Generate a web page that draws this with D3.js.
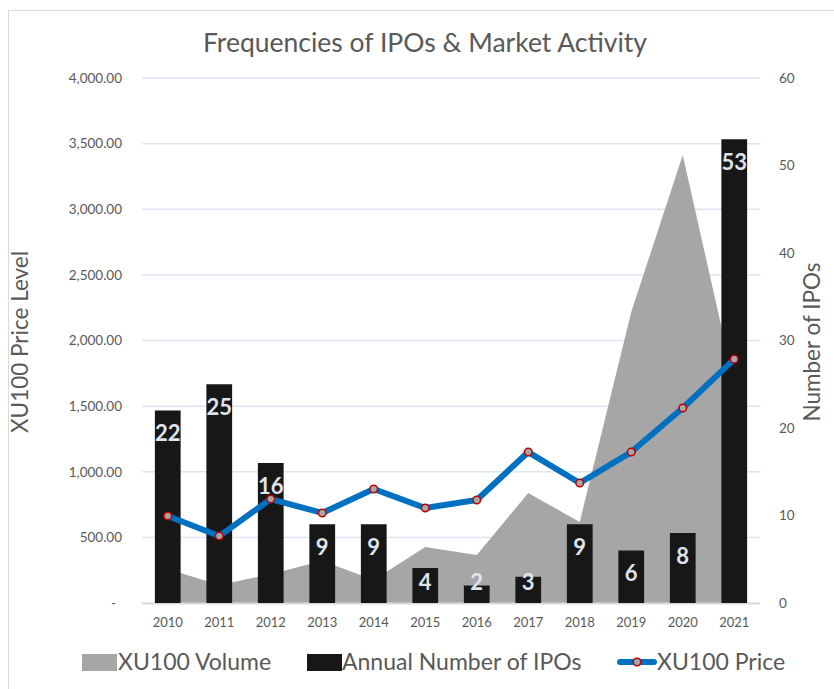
<!DOCTYPE html>
<html lang="en">
<head>
    <meta charset="utf-8">
    <title>Frequencies of IPOs & Market Activity</title>
    <script src="https://cdn.jsdelivr.net/npm/d3@7"></script>
    <style>
        body { margin: 0; background: #fff; }
        text { font-family: Lato, "Open Sans", sans-serif; }
    </style>
</head>
<body>
<script>
    // data
    var years = ["2010", "2011", "2012", "2013", "2014", "2015", "2016", "2017", "2018", "2019", "2020", "2021"];
    var ipoCounts = [22, 25, 16, 9, 9, 4, 2, 3, 9, 6, 8, 53];
    var priceLevels = [663, 510, 792, 686, 869, 724, 785, 1150, 914, 1150, 1486, 1858];
    var volumes = [259, 137, 220, 322, 175, 427, 366, 838, 617, 2217, 3413, 1670];
    var leftTicks = [0, 500, 1000, 1500, 2000, 2500, 3000, 3500, 4000];
    var rightTicks = [0, 10, 20, 30, 40, 50, 60];

    var w = 834, h = 689;
    var plotL = 142, plotR = 760, plotT = 78, plotB = 603;
    var grey = "#595959";

    var svg = d3.select("body").append("svg")
        .attr("width", w)
        .attr("height", h);

    // chart border
    svg.append("rect")
        .attr("x", 8.5).attr("y", 10.5)
        .attr("width", 900).attr("height", 800)
        .attr("fill", "#fff")
        .attr("stroke", "#d9d9d9");

    var x = d3.scaleBand()
        .domain(years)
        .range([plotL, plotR])
        .paddingInner(0.5)
        .paddingOuter(0.25);
    var cx = function(d) { return x(d) + x.bandwidth() / 2; };

    var yL = d3.scaleLinear().domain([0, 4000]).range([plotB, plotT]);
    var yR = d3.scaleLinear().domain([0, 60]).range([plotB, plotT]);

    // gridlines
    svg.append("g").selectAll("line")
        .data(leftTicks.slice(1))
        .enter().append("line")
        .attr("x1", plotL).attr("x2", plotR)
        .attr("y1", function(d) { return yL(d); })
        .attr("y2", function(d) { return yL(d); })
        .attr("stroke", "#dce6f2")
        .attr("stroke-width", 1.5);

    // left axis
    var axL = svg.append("g")
        .attr("transform", "translate(" + (plotL - 17) + ",0)")
        .call(d3.axisLeft(yL).tickValues(leftTicks).tickSize(0)
            .tickFormat(function(d) { return d === 0 ? "-" : d3.format(",.2f")(d); }));
    axL.select(".domain").remove();
    axL.selectAll("text")
        .attr("font-size", 13.5).attr("fill", grey)
        .attr("dx", function(d) { return d === 0 ? -6 : 0; })
        .style("font-family", "Lato, sans-serif");

    // right axis
    var axR = svg.append("g")
        .attr("transform", "translate(" + (plotR + 16) + ",0)")
        .call(d3.axisRight(yR).tickValues(rightTicks).tickSize(0));
    axR.select(".domain").remove();
    axR.selectAll("text")
        .attr("font-size", 13.5).attr("fill", grey)
        .style("font-family", "Lato, sans-serif");

    // volume area
    var area = d3.area()
        .x(function(d, i) { return cx(years[i]); })
        .y0(yL(0))
        .y1(function(d) { return yL(d); });
    svg.append("path")
        .datum(volumes)
        .attr("d", area)
        .attr("fill", "#a6a6a6");

    // baseline
    svg.append("line")
        .attr("x1", plotL).attr("x2", plotR)
        .attr("y1", plotB + 0.5).attr("y2", plotB + 0.5)
        .attr("stroke", "#d9d9d9")
        .attr("stroke-width", 2);

    // IPO bars
    svg.selectAll("rect.bar")
        .data(ipoCounts)
        .enter().append("rect")
        .attr("class", "bar")
        .attr("x", function(d, i) { return x(years[i]); })
        .attr("y", function(d) { return yR(d); })
        .attr("width", x.bandwidth())
        .attr("height", function(d) { return plotB - yR(d); })
        .attr("fill", "#171717");

    // price line
    var line = d3.line()
        .x(function(d, i) { return cx(years[i]); })
        .y(function(d) { return yL(d); });
    svg.append("path")
        .datum(priceLevels)
        .attr("d", line)
        .attr("fill", "none")
        .attr("stroke", "#0070c0")
        .attr("stroke-width", 6)
        .attr("stroke-linejoin", "round")
        .attr("stroke-linecap", "round");

    svg.selectAll("circle.pt")
        .data(priceLevels)
        .enter().append("circle")
        .attr("class", "pt")
        .attr("cx", function(d, i) { return cx(years[i]); })
        .attr("cy", function(d) { return yL(d); })
        .attr("r", 3.8)
        .attr("fill", "#a6a6a6")
        .attr("stroke", "#c00000")
        .attr("stroke-width", 1.5);

    // bar labels (inside end)
    svg.selectAll("text.lbl")
        .data(ipoCounts)
        .enter().append("text")
        .attr("class", "lbl")
        .text(function(d) { return d; })
        .attr("x", function(d, i) { return cx(years[i]); })
        .attr("y", function(d) { return Math.min(yR(d) + 23, plotB - 21); })
        .attr("dy", "0.35em")
        .attr("text-anchor", "middle")
        .attr("font-size", 22)
        .attr("font-weight", "bold")
        .attr("fill", "#dfe4ec");

    // x axis labels
    svg.selectAll("text.year")
        .data(years)
        .enter().append("text")
        .attr("class", "year")
        .text(function(d) { return d; })
        .attr("x", function(d) { return cx(d); })
        .attr("y", 622)
        .attr("dy", "0.35em")
        .attr("text-anchor", "middle")
        .attr("font-size", 13)
        .attr("fill", grey);

    // title
    svg.append("text")
        .text("Frequencies of IPOs & Market Activity")
        .attr("x", 425).attr("y", 43)
        .attr("dy", "0.35em")
        .attr("text-anchor", "middle")
        .attr("font-size", 26.5)
        .attr("fill", grey);

    // axis titles
    svg.append("text")
        .text("XU100 Price Level")
        .attr("transform", "translate(20,342) rotate(-90)")
        .attr("dy", "0.35em")
        .attr("text-anchor", "middle")
        .attr("font-size", 22.5)
        .attr("fill", grey);
    svg.append("text")
        .text("Number of IPOs")
        .attr("transform", "translate(812,342) rotate(-90)")
        .attr("dy", "0.35em")
        .attr("text-anchor", "middle")
        .attr("font-size", 22.5)
        .attr("fill", grey);

    // legend
    var ly = 662;
    var lg = svg.append("g");
    lg.append("rect").attr("x", 82).attr("y", ly - 8).attr("width", 35).attr("height", 17).attr("fill", "#a6a6a6");
    lg.append("text").text("XU100 Volume").attr("x", 118).attr("y", ly).attr("dy", "0.35em")
        .attr("font-size", 23).attr("fill", grey);
    lg.append("rect").attr("x", 307).attr("y", ly - 8).attr("width", 35).attr("height", 17).attr("fill", "#171717");
    lg.append("text").text("Annual Number of IPOs").attr("x", 342).attr("y", ly).attr("dy", "0.35em")
        .attr("font-size", 23).attr("fill", grey);
    lg.append("line").attr("x1", 620).attr("x2", 654).attr("y1", ly).attr("y2", ly)
        .attr("stroke", "#0070c0").attr("stroke-width", 6).attr("stroke-linecap", "round");
    lg.append("circle").attr("cx", 637).attr("cy", ly).attr("r", 3.8)
        .attr("fill", "#a6a6a6").attr("stroke", "#c00000").attr("stroke-width", 1.5);
    lg.append("text").text("XU100 Price").attr("x", 657).attr("y", ly).attr("dy", "0.35em")
        .attr("font-size", 23).attr("fill", grey);
</script>
</body>
</html>
